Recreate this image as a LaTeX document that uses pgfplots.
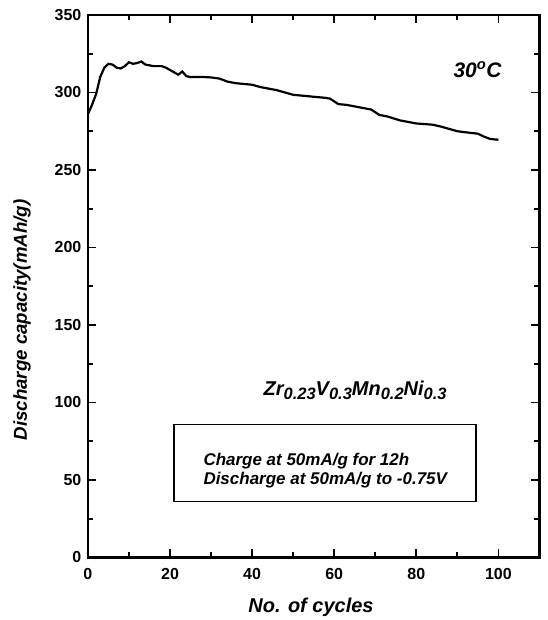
\documentclass[border=0pt]{standalone}
\usepackage{fontspec}
\setmainfont{Liberation Sans}
\usepackage{pgfplots}
\pgfplotsset{compat=1.18}
\newcommand{\sub}[1]{\raisebox{-4pt}{\fontsize{16.5}{18}\selectfont #1}}
\begin{document}
\begin{tikzpicture}
\begin{axis}[
  scale only axis,
  width=452pt, height=543pt,
  xmin=0, xmax=110, ymin=0, ymax=350,
  xtick={0,20,...,100}, minor xtick={10,30,...,90},
  ytick={0,50,...,350}, minor ytick={25,75,...,325},
  tick align=inside,
  major tick length=8pt, minor tick length=5pt,
  axis line style={line width=2.4pt},
  every tick/.style={black, line width=1.8pt},
  /pgf/number format/assume math mode=true,
  ticklabel style={font=\fontsize{16}{18}\selectfont\bfseries},
  xticklabel style={yshift=-7pt},
  yticklabel style={xshift=-3pt},
  xlabel={No. of cycles},
  ylabel={Discharge capacity(mAh/g)},
  xlabel style={font=\fontsize{20}{22}\selectfont\bfseries\itshape,
    at={(axis description cs:0.494,-0.092)}, anchor=center},
  ylabel style={font=\fontsize{18.7}{21}\selectfont\bfseries\itshape,
    at={(axis description cs:-0.146,0.438)}, anchor=center, rotate=0},
  clip=false,
]
\addplot[black, line width=2.2pt, mark=none] coordinates {
(0,286) (1,292) (2,299) (3,310) (4,316) (5,318.5) (6,318) (7,316) (8,315.5)
(9,317) (10,319.5) (11,318.5) (12,319) (13,320) (14,318) (15,317.5) (16,317)
(17,317) (18,317) (19,316) (20,314.5) (21,313) (22,311.5) (23,313.5) (24,310.5)
(25,310) (26,310) (28,310) (30,309.7) (32,309) (34,307) (36,306) (38,305.5)
(40,305) (42,303.5) (44,302.5) (46,301.5) (48,300) (50,298.5) (52,298)
(54,297.5) (56,297) (58,296.5) (59,296) (61,292.5) (63,292) (66,290.5)
(69,289) (71,285.5) (73,284.5) (76,282) (80,280) (84,279.2) (86,278)
(88,276.5) (90,275) (93,274) (95,273.4) (96.5,271.5) (98,270) (100,269.5)
};
\node[font=\fontsize{21}{24}\selectfont\bfseries\itshape] at (axis cs:94.9,314.6) {30\textsuperscript{o}C};
\node[font=\fontsize{20}{22}\selectfont\bfseries\itshape] at (axis cs:65.1,107.5)
  {Zr\sub{0.23}V\sub{0.3}Mn\sub{0.2}Ni\sub{0.3}};
\draw[line width=1.8pt] (axis cs:21,36.1) rectangle (axis cs:94.6,85.8);
\node[anchor=west, font=\fontsize{17}{18.5}\selectfont\bfseries\itshape, align=left] at (axis cs:27.3,56.1)
  {Charge at 50mA/g for 12h\\Discharge at 50mA/g to -0.75V};
\coordinate (sw) at (rel axis cs:0,0);
\coordinate (ne) at (rel axis cs:1,1);
\end{axis}
\path ([shift={(-88pt,-62pt)}]sw) rectangle ([shift={(8pt,15pt)}]ne);
\end{tikzpicture}
\end{document}
